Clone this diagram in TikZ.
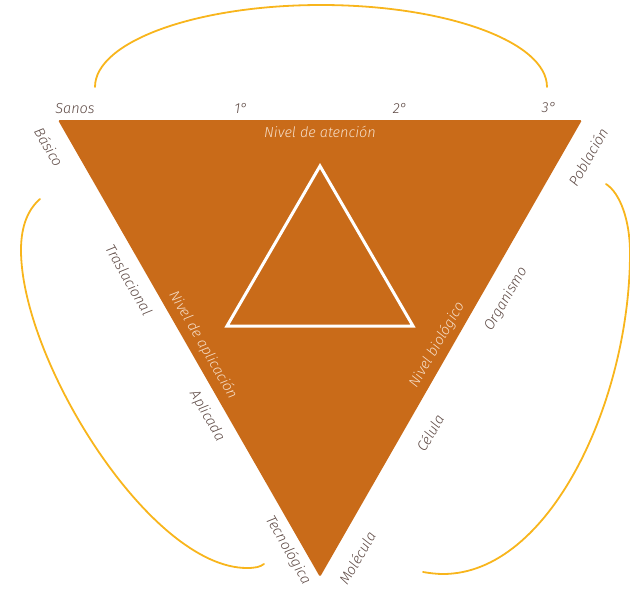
\documentclass[tikz,border=0pt]{standalone}
\usepackage{fontspec}
\IfFontExistsTF{Fira Sans Light Italic}{\newfontfamily\lbl{Fira Sans Light Italic}}{\newfontfamily\lblf{Fira Sans}\def\lbl{\lblf\itshape}}
\definecolor{tri}{HTML}{C96B19}
\definecolor{arcc}{HTML}{F8B51C}
\definecolor{labc}{HTML}{5E4A45}
\definecolor{cream}{HTML}{F6DEC8}
\tikzset{
  lab/.style={font=\lbl\fontsize{14.5}{16}\selectfont, text=labc, inner sep=0pt},
  inlab/.style={lab, text=cream},
  bow/.style={draw=arcc, line width=1.8pt, line cap=round}
}
\begin{document}
\begin{tikzpicture}[x=1pt,y=-1pt]
\useasboundingbox (0,0) rectangle (630,590);
\coordinate (TL) at (58,120);
\coordinate (TR) at (582,120);
\coordinate (B) at (320,577);
\fill[tri, rounded corners=1.5pt] (TL) -- (TR) -- (B) -- cycle;
\coordinate (iT) at (320,166);
\coordinate (iR) at (413,326);
\coordinate (iL) at (227,326);
\draw[white, line width=3pt, line join=miter] (iT) -- (iR) -- (iL) -- cycle;
% top arc
\draw[bow] (95,87) .. controls (95,41.7) and (196.2,5) .. (321,5)
  .. controls (445.8,5) and (547,41.7) .. (547,87);
% left arc
\draw[bow] (40,199) .. controls (25,212) and (21,232) .. (21,250)
  .. controls (21,360) and (150,568) .. (247,568)
  .. controls (255,568) and (260,567) .. (264,564);
% right arc
\draw[bow] (606,184) .. controls (620,193) and (630,220) .. (630,253)
  .. controls (630,400) and (550,574) .. (443,574)
  .. controls (436,574) and (429,573) .. (423,572);
% top labels
\node[lab] (sanos) at (75,109) {Sanos};
\node[lab] (g1) at (241,108) {1°};
\node[lab] (g2) at (400,108) {2°};
\node[lab] (g3) at (549,108) {3°};
\node[inlab] (aten) at (320,132) {Nivel de atención};
% left side labels
\node[lab, rotate=-60] (basico) at (49,147) {Básico};
\node[lab, rotate=-60] (trasl) at (129,280) {Traslacional};
\node[inlab, rotate=-60] (aplic) at (203,345) {Nivel de aplicación};
\node[lab, rotate=-60] (aplicada) at (207,416) {Aplicada};
\node[lab, rotate=-60] (tecno) at (288,550) {Tecnológica};
% right side labels
\node[lab, rotate=60] (molec) at (357,558) {Molécula};
\node[lab, rotate=60] (celula) at (430,433) {Célula};
\node[inlab, rotate=60] (biolog) at (437,345) {Nivel biológico};
\node[lab, rotate=60] (organ) at (506,299) {Organismo};
\node[lab, rotate=60] (pobla) at (588,157) {Población};
\end{tikzpicture}
\end{document}
